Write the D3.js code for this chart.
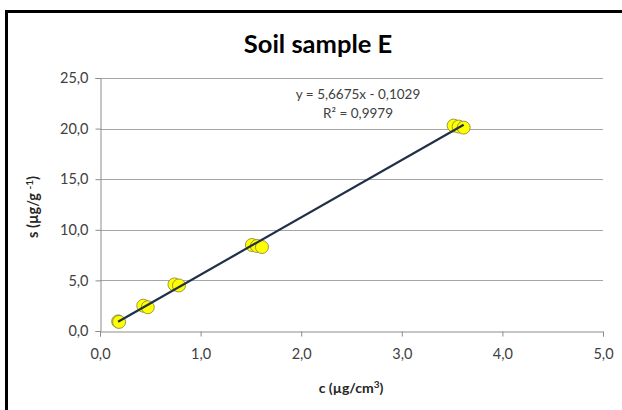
<!DOCTYPE html>
<html>
<head>
<meta charset="utf-8">
<script src="https://cdn.jsdelivr.net/npm/d3@7"></script>
<style>
  body { margin: 0; background: #fff; }
  text { font-family: Lato, "Open Sans", sans-serif; }
</style>
</head>
<body>
<div id="chart"></div>
<script>
// data
var concX = [0.18, 0.19, 0.43, 0.475, 0.74, 0.785, 1.51, 1.56, 1.61, 3.515, 3.565, 3.615];
var sorbY = [0.95, 0.9, 2.5, 2.35, 4.6, 4.5, 8.5, 8.4, 8.3, 20.3, 20.2, 20.1];
var xTicks = [0, 1, 2, 3, 4, 5];
var yTicks = [0, 5, 10, 15, 20, 25];
var slope = 5.6675, intercept = -0.1029;
var eqLines = ["y = 5,6675x - 0,1029", "R\u00b2 = 0,9979"];

var W = 622, H = 410;
var margin = { top: 78, right: 19, bottom: 79, left: 100 },
    width = W - margin.left - margin.right,
    height = H - margin.top - margin.bottom;

var fmt = function (v) { return d3.format(".1f")(v).replace(".", ","); };

var svg0 = d3.select("#chart").append("svg")
    .attr("width", W)
    .attr("height", H);

// outer frame (runs off the right and bottom edge)
svg0.append("rect")
    .attr("x", 6.5).attr("y", 11.5)
    .attr("width", W).attr("height", H)
    .attr("fill", "none")
    .attr("stroke", "#000")
    .attr("stroke-width", 3);

// title
svg0.append("text")
    .attr("x", 318).attr("y", 53)
    .attr("text-anchor", "middle")
    .style("font-size", "25.5px")
    .style("font-weight", "bold")
    .text("Soil sample E");

var svg = svg0.append("g")
    .attr("transform", "translate(" + margin.left + "," + margin.top + ")");

var x = d3.scaleLinear().domain([0, 5]).range([0, width]);
var y = d3.scaleLinear().domain([0, 25]).range([height, 0]);

// gridlines
svg.append("g")
    .selectAll("line")
    .data(yTicks.slice(1))
    .enter().append("line")
    .attr("x1", 0).attr("x2", width)
    .attr("y1", function (d) { return Math.round(y(d)) + 0.5; })
    .attr("y2", function (d) { return Math.round(y(d)) + 0.5; })
    .attr("stroke", "#a6a6a6")
    .attr("stroke-width", 1);

// axes
var yAxis = svg.append("g")
    .attr("transform", "translate(0.5,0)")
    .call(d3.axisLeft(y).tickValues(yTicks).tickFormat(fmt).tickSize(5).tickPadding(7));
var xAxis = svg.append("g")
    .attr("transform", "translate(0," + (Math.round(height) + 0.5) + ")")
    .call(d3.axisBottom(x).tickValues(xTicks).tickFormat(fmt).tickSize(5).tickPadding(12));

[xAxis, yAxis].forEach(function (a) {
    a.select(".domain").attr("stroke", "#8c8c8c");
    a.selectAll(".tick line").attr("stroke", "#8c8c8c");
    a.selectAll(".tick text")
        .attr("fill", "#404040")
        .style("font-size", "14.5px")
        .style("font-family", "Lato, 'Open Sans', sans-serif");
});

// points
var pts = concX.map(function (c, i) { return { x: c, y: sorbY[i] }; });
svg.append("g")
    .selectAll("circle")
    .data(pts)
    .enter().append("circle")
    .attr("cx", function (d) { return x(d.x); })
    .attr("cy", function (d) { return y(d.y); })
    .attr("r", 6.5)
    .attr("fill", "#ffff00")
    .attr("stroke", "#7f7f40")
    .attr("stroke-width", 0.8);

// linear trendline from the printed equation
var xExt = d3.extent(concX);
svg.append("path")
    .datum(xExt)
    .attr("fill", "none")
    .attr("stroke", "#1f3048")
    .attr("stroke-width", 2.2)
    .attr("d", d3.line()
        .x(function (d) { return x(d); })
        .y(function (d) { return y(slope * d + intercept); }));

// equation label
svg0.append("text")
    .attr("x", 358).attr("y", 99)
    .attr("text-anchor", "middle")
    .attr("fill", "#404040")
    .style("font-size", "13.5px")
    .text(eqLines[0]);
svg0.append("text")
    .attr("x", 358).attr("y", 118)
    .attr("text-anchor", "middle")
    .attr("fill", "#404040")
    .style("font-size", "13.5px")
    .text(eqLines[1]);

// axis titles
var xt = svg0.append("text")
    .attr("x", 351).attr("y", 393)
    .attr("text-anchor", "middle")
    .style("font-size", "14px")
    .style("font-weight", "bold")
    .attr("fill", "#262626");
xt.append("tspan").text("c (\u00b5g/cm");
xt.append("tspan").attr("dy", -5).style("font-size", "10px").text("3");
xt.append("tspan").attr("dy", 5).text(")");

var yt = svg0.append("text")
    .attr("transform", "translate(38,207) rotate(-90)")
    .attr("text-anchor", "middle")
    .style("font-size", "14.5px")
    .style("font-weight", "bold")
    .attr("fill", "#262626");
yt.append("tspan").text("s (\u00b5g/g ");
yt.append("tspan").attr("dy", -5).style("font-size", "10px").text("-1");
yt.append("tspan").attr("dy", 5).text(")");
</script>
</body>
</html>
